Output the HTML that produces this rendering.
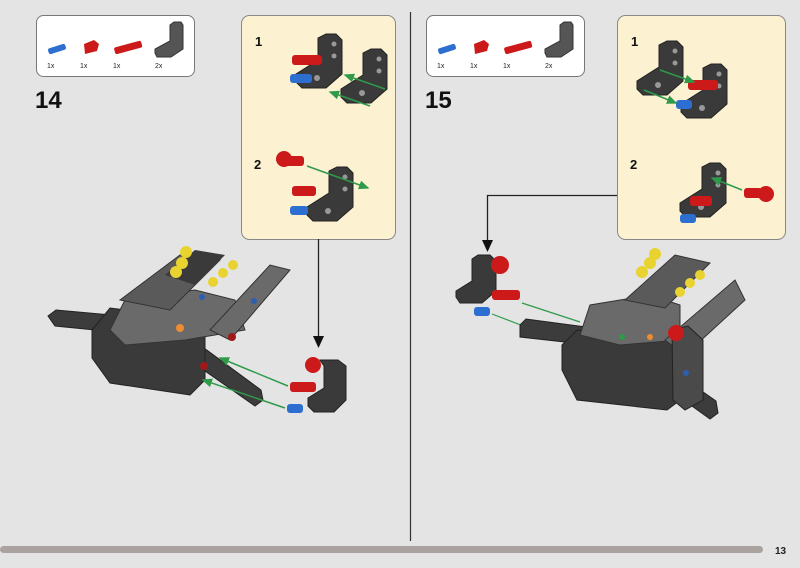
<!DOCTYPE html>
<html><head><meta charset="utf-8"><style>
html,body{margin:0;padding:0;background:#e4e4e4;}
svg{display:block;}
text{font-family:"Liberation Sans",sans-serif;}
</style></head><body>
<svg width="800" height="568" viewBox="0 0 800 568" xmlns="http://www.w3.org/2000/svg">
<defs>
<marker id="ga" markerWidth="8" markerHeight="8" refX="6" refY="3" orient="auto"><path d="M0,0 L7,3 L0,6 z" fill="#2e9a4a"/></marker>
<g id="lbeam"><path d="M14,0 l10,0 l6,6 l0,34 l-16,14 l-24,0 l-6,-6 l0,-8 l22,-14 l0,-22 z" fill="#3a3a3a" stroke="#222" stroke-width="1"/><circle cx="22" cy="10" r="2.5" fill="#999"/><circle cx="22" cy="22" r="2.5" fill="#999"/><circle cx="5" cy="44" r="3" fill="#999"/></g>
</defs>
<rect width="800" height="568" fill="#e4e4e4"/>
<line x1="410.5" y1="12" x2="410.5" y2="541" stroke="#333" stroke-width="1.2"/>
<rect x="0" y="546" width="763" height="7" rx="3.5" fill="#a9a29e"/>
<text x="775" y="554" font-size="10" font-weight="bold" fill="#222">13</text>

<!-- LEFT parts box -->
<rect x="36.5" y="15.5" width="158" height="61" rx="7" fill="#fff" stroke="#777"/>
<rect x="48" y="46" width="18" height="6" rx="2" fill="#2c6fd0" transform="rotate(-18 57 49)"/>
<path d="M84,44 l10,-4 l5,4 l-2,7 l-12,3 z" fill="#cc1a1a"/>
<rect x="114" y="44" width="28" height="7" rx="2" fill="#cc1a1a" transform="rotate(-15 128 47)"/>
<path d="M174,22 l7,0 l2,3 l0,24 l-12,8 l-14,0 l-2,-4 l0,-4 l15,-8 l0,-16 z" fill="#555" stroke="#333"/>
<text x="47" y="68" font-size="7" fill="#222">1x</text>
<text x="80" y="68" font-size="7" fill="#222">1x</text>
<text x="113" y="68" font-size="7" fill="#222">1x</text>
<text x="155" y="68" font-size="7" fill="#222">2x</text>
<text x="35" y="108" font-size="24" font-weight="bold" fill="#111">14</text>

<!-- LEFT callout -->
<rect x="241.5" y="15.5" width="154" height="224" rx="8" fill="#fcf2d2" stroke="#888"/>
<text x="255" y="46" font-size="13" font-weight="bold" fill="#111">1</text>
<text x="254" y="169" font-size="13" font-weight="bold" fill="#111">2</text>
<use href="#lbeam" x="312" y="34"/>
<use href="#lbeam" x="357" y="49"/>
<rect x="292" y="55" width="30" height="10" rx="3" fill="#cc1a1a"/>
<rect x="290" y="74" width="22" height="9" rx="3" fill="#2c6fd0"/>
<line x1="385" y1="89" x2="345" y2="75" stroke="#2e9a4a" stroke-width="1.5" marker-end="url(#ga)"/>
<line x1="370" y1="106" x2="330" y2="92" stroke="#2e9a4a" stroke-width="1.5" marker-end="url(#ga)"/>
<circle cx="284" cy="159" r="8" fill="#cc1a1a"/>
<rect x="286" y="156" width="18" height="10" rx="3" fill="#cc1a1a"/>
<use href="#lbeam" x="323" y="167"/>
<rect x="292" y="186" width="24" height="10" rx="3" fill="#cc1a1a"/>
<rect x="290" y="206" width="18" height="9" rx="3" fill="#2c6fd0"/>
<line x1="307" y1="166" x2="368" y2="188" stroke="#2e9a4a" stroke-width="1.5" marker-end="url(#ga)"/>
<line x1="318.5" y1="239" x2="318.5" y2="338" stroke="#222" stroke-width="1.3"/>
<path d="M313,336 L324,336 L318.5,348 z" fill="#111"/>

<!-- LEFT model -->
<g>
<path d="M48,316 l8,-6 l110,10 l95,70 l2,10 l-8,6 l-100,-70 l-100,-10 z" fill="#3c3c3c" stroke="#222"/>
<path d="M92,330 l18,-22 l95,12 l0,60 l-15,15 l-80,-12 l-18,-25 z" fill="#3a3a3a" stroke="#222"/>
<path d="M110,330 l15,-30 l70,-10 l40,10 l10,30 l-60,10 l-60,5 z" fill="#6a6a6a" stroke="#333"/>
<path d="M120,300 l60,-45 l40,5 l-50,50 z" fill="#5a5a5a" stroke="#333"/>
<path d="M165,275 l30,-25 l30,5 l-30,30 z" fill="#3a3a3a"/>
<path d="M210,330 l60,-65 l20,5 l-60,70 z" fill="#6a6a6a" stroke="#333"/>
<circle cx="182" cy="263" r="6" fill="#e8d330"/><circle cx="176" cy="272" r="6" fill="#e8d330"/><circle cx="186" cy="252" r="6" fill="#e8d330"/>
<circle cx="233" cy="265" r="5" fill="#e8d330"/><circle cx="223" cy="273" r="5" fill="#e8d330"/><circle cx="213" cy="282" r="5" fill="#e8d330"/>
<circle cx="180" cy="328" r="4" fill="#f08c30"/>
<circle cx="204" cy="366" r="4" fill="#a01818"/><circle cx="232" cy="337" r="4" fill="#a01818"/>
<circle cx="202" cy="297" r="3" fill="#2c5fb0"/><circle cx="254" cy="301" r="3" fill="#2c5fb0"/>
</g>
<path d="M320,360 l18,0 l8,6 l0,34 l-12,12 l-20,0 l-6,-6 l0,-8 l16,-10 l0,-22 z" fill="#3a3a3a" stroke="#222"/>
<circle cx="313" cy="365" r="8" fill="#cc1a1a"/>
<rect x="290" y="382" width="26" height="10" rx="3" fill="#cc1a1a"/>
<rect x="287" y="404" width="16" height="9" rx="3" fill="#2c6fd0"/>
<line x1="288" y1="386" x2="220" y2="358" stroke="#2e9a4a" stroke-width="1.5" marker-end="url(#ga)"/>
<line x1="285" y1="408" x2="203" y2="380" stroke="#2e9a4a" stroke-width="1.5" marker-end="url(#ga)"/>

<!-- RIGHT parts box -->
<rect x="426.5" y="15.5" width="158" height="61" rx="7" fill="#fff" stroke="#777"/>
<rect x="438" y="46" width="18" height="6" rx="2" fill="#2c6fd0" transform="rotate(-18 447 49)"/>
<path d="M474,44 l10,-4 l5,4 l-2,7 l-12,3 z" fill="#cc1a1a"/>
<rect x="504" y="44" width="28" height="7" rx="2" fill="#cc1a1a" transform="rotate(-15 518 47)"/>
<path d="M564,22 l7,0 l2,3 l0,24 l-12,8 l-14,0 l-2,-4 l0,-4 l15,-8 l0,-16 z" fill="#555" stroke="#333"/>
<text x="437" y="68" font-size="7" fill="#222">1x</text>
<text x="470" y="68" font-size="7" fill="#222">1x</text>
<text x="503" y="68" font-size="7" fill="#222">1x</text>
<text x="545" y="68" font-size="7" fill="#222">2x</text>
<text x="425" y="108" font-size="24" font-weight="bold" fill="#111">15</text>

<!-- RIGHT callout -->
<rect x="617.5" y="15.5" width="168" height="224" rx="8" fill="#fcf2d2" stroke="#888"/>
<text x="631" y="46" font-size="13" font-weight="bold" fill="#111">1</text>
<text x="630" y="169" font-size="13" font-weight="bold" fill="#111">2</text>
<use href="#lbeam" x="653" y="41"/>
<use href="#lbeam" x="697" y="64"/>
<rect x="688" y="80" width="30" height="10" rx="3" fill="#cc1a1a"/>
<rect x="676" y="100" width="16" height="9" rx="3" fill="#2c6fd0"/>
<line x1="660" y1="70" x2="694" y2="82" stroke="#2e9a4a" stroke-width="1.5" marker-end="url(#ga)"/>
<line x1="644" y1="90" x2="676" y2="103" stroke="#2e9a4a" stroke-width="1.5" marker-end="url(#ga)"/>
<use href="#lbeam" x="696" y="163"/>
<rect x="690" y="196" width="22" height="10" rx="3" fill="#cc1a1a"/>
<rect x="680" y="214" width="16" height="9" rx="3" fill="#2c6fd0"/>
<circle cx="766" cy="194" r="8" fill="#cc1a1a"/>
<rect x="744" y="188" width="18" height="10" rx="3" fill="#cc1a1a"/>
<line x1="742" y1="190" x2="712" y2="178" stroke="#2e9a4a" stroke-width="1.5" marker-end="url(#ga)"/>
<polyline points="617,195.5 487.5,195.5 487.5,242" fill="none" stroke="#222" stroke-width="1.3"/>
<path d="M482,240 L493,240 L487.5,252 z" fill="#111"/>

<path d="M478,255 l12,0 l6,6 l0,30 l-14,12 l-22,0 l-4,-6 l0,-6 l16,-10 l0,-22 z" fill="#3a3a3a" stroke="#222"/>
<circle cx="500" cy="265" r="9" fill="#cc1a1a"/>
<rect x="492" y="290" width="28" height="10" rx="3" fill="#cc1a1a"/>
<rect x="474" y="307" width="16" height="9" rx="3" fill="#2c6fd0"/>
<line x1="522" y1="303" x2="580" y2="322" stroke="#2e9a4a" stroke-width="1.2"/>
<line x1="492" y1="314" x2="560" y2="340" stroke="#2e9a4a" stroke-width="1.2" marker-end="url(#ga)"/>

<!-- RIGHT model -->
<g>
<path d="M520,325 l6,-6 l90,12 l100,70 l2,12 l-8,6 l-100,-72 l-90,-10 z" fill="#3c3c3c" stroke="#222"/>
<path d="M562,345 l15,-15 l110,5 l0,60 l-20,15 l-90,-10 l-15,-30 z" fill="#3a3a3a" stroke="#222"/>
<path d="M580,335 l10,-30 l60,-10 l30,10 l0,35 l-60,5 z" fill="#6a6a6a" stroke="#333"/>
<path d="M625,300 l50,-45 l35,8 l-45,45 z" fill="#5a5a5a" stroke="#333"/>
<path d="M665,340 l70,-60 l10,20 l-60,55 z" fill="#6a6a6a" stroke="#333"/>
<path d="M672,330 l16,-4 l15,14 l0,60 l-18,10 l-12,-10 z" fill="#4a4a4a" stroke="#222"/>
<circle cx="650" cy="263" r="6" fill="#e8d330"/><circle cx="642" cy="272" r="6" fill="#e8d330"/><circle cx="655" cy="254" r="6" fill="#e8d330"/>
<circle cx="700" cy="275" r="5" fill="#e8d330"/><circle cx="690" cy="283" r="5" fill="#e8d330"/><circle cx="680" cy="292" r="5" fill="#e8d330"/>
<circle cx="676" cy="333" r="8" fill="#cc1a1a"/>
<circle cx="650" cy="337" r="3" fill="#f08c30"/>
<circle cx="622" cy="337" r="3" fill="#2e9a4a"/>
<circle cx="686" cy="373" r="3" fill="#2c5fb0"/>
</g>
</svg>
</body></html>
